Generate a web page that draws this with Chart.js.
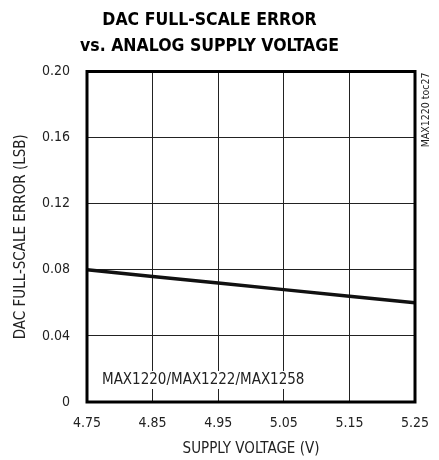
<!DOCTYPE html>
<html>
<head>
<meta charset="utf-8">
<script src="https://cdn.jsdelivr.net/npm/chart.js@4"></script>
<style>
  html, body { margin: 0; padding: 0; background: #fff; }
  #wrap { width: 439px; height: 460px; }
</style>
</head>
<body>
<div id="wrap"><canvas id="c" width="439" height="460"></canvas></div>
<script>
// supply voltage (V) and full-scale error (LSB)
const voltages = [4.75, 4.85, 4.95, 5.05, 5.15, 5.25];
const errors = [0.080, 0.076, 0.072, 0.068, 0.064, 0.060];

const xTicks = [4.75, 4.85, 4.95, 5.05, 5.15, 5.25];
const yTicks = ["0", "0.04", "0.08", "0.12", "0.16", "0.20"];

const FONT = "'Liberation Sans Narrow', 'DejaVu Sans Condensed', 'Liberation Sans', sans-serif";

// thick frame, part label and side note
const extras = {
  id: "extras",
  afterDraw(chart) {
    const ctx = chart.ctx;
    const a = chart.chartArea;
    ctx.save();

    // label inside the plot, with white behind it
    ctx.font = "15px " + FONT;
    const label = "MAX1220/MAX1222/MAX1258";
    const w = ctx.measureText(label).width;
    const lx = a.left + 15, ly = a.bottom - 22;
    ctx.fillStyle = "#fff";
    ctx.fillRect(lx - 2, ly - 9, w + 4, 18);
    ctx.fillStyle = "#222";
    ctx.textBaseline = "middle";
    ctx.fillText(label, lx, ly);

    // frame
    ctx.strokeStyle = "#000";
    ctx.lineWidth = 3;
    ctx.strokeRect(a.left, a.top, a.right - a.left, a.bottom - a.top);

    // side note
    ctx.translate(a.right + 11, a.top + 1);
    ctx.rotate(-Math.PI / 2);
    ctx.font = "10.5px " + FONT;
    ctx.textAlign = "right";
    ctx.textBaseline = "middle";
    ctx.fillStyle = "#222";
    ctx.fillText("MAX1220 toc27", 0, 0);
    ctx.restore();
  }
};

new Chart(document.getElementById("c"), {
  type: "line",
  data: {
    datasets: [{
      data: voltages.map((v, i) => ({ x: v, y: errors[i] })),
      borderColor: "#111",
      borderWidth: 3.5,
      pointRadius: 0,
      tension: 0
    }]
  },
  options: {
    responsive: false,
    animation: false,
    layout: { padding: { left: 4, right: 24, top: 0, bottom: 2 } },
    plugins: {
      legend: { display: false },
      tooltip: { enabled: false },
      title: {
        display: true,
        text: ["DAC FULL-SCALE ERROR", "vs. ANALOG SUPPLY VOLTAGE"],
        color: "#000",
        font: { family: FONT, size: 17.5, weight: "bold", lineHeight: 1.5 },
        padding: { top: 7, bottom: 12 }
      }
    },
    scales: {
      x: {
        type: "linear",
        min: 4.75,
        max: 5.25,
        afterBuildTicks(s) { s.ticks = xTicks.map(v => ({ value: v })); },
        afterFit(s) {
          s.height = 56;
          // keep the label overhang from squeezing the plot
          s.paddingLeft = 0;
          s.paddingRight = 0;
        },
        ticks: {
          color: "#222",
          padding: 13,
          maxRotation: 0,
          font: { family: FONT, size: 14 },
          callback: v => v.toFixed(2)
        },
        grid: { color: "#222", lineWidth: 1, drawTicks: false },
        border: { display: false },
        title: {
          display: true,
          text: "SUPPLY VOLTAGE (V)",
          color: "#222",
          font: { family: FONT, size: 15 },
          padding: { top: 4, bottom: 0 }
        }
      },
      y: {
        min: 0,
        max: 0.2,
        afterBuildTicks(s) { s.ticks = yTicks.map(t => ({ value: parseFloat(t) })); },
        afterFit(s) { s.width = 83; },
        ticks: {
          color: "#222",
          padding: 17,
          font: { family: FONT, size: 14 },
          callback: (v, i) => yTicks[i]
        },
        grid: { color: "#222", lineWidth: 1, drawTicks: false },
        border: { display: false },
        title: {
          display: true,
          text: "DAC FULL-SCALE ERROR (LSB)",
          color: "#222",
          font: { family: FONT, size: 15 },
          padding: { top: 8, bottom: 4 }
        }
      }
    }
  },
  plugins: [extras]
});
</script>
</body>
</html>
